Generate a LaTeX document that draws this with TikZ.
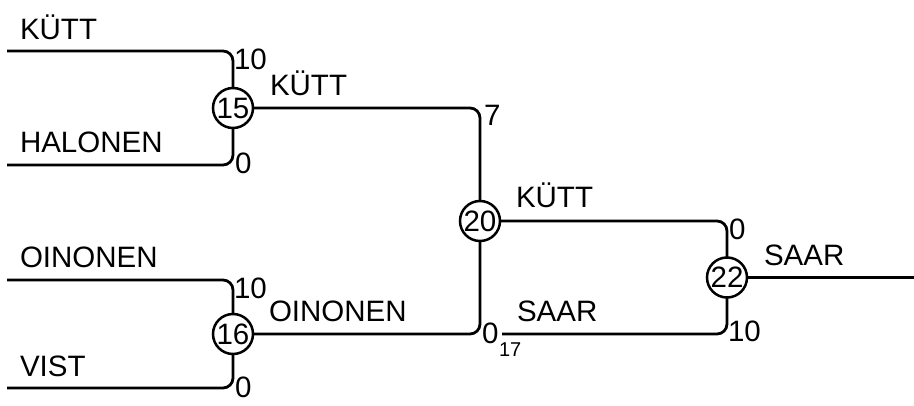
\documentclass[tikz,border=0pt]{standalone}
\usepackage{fontspec}
\setmainfont{Liberation Sans}
\begin{document}
\begin{tikzpicture}[x=1pt,y=-1pt,
  every node/.style={inner sep=0pt,outer sep=0pt,font=\fontsize{29.5}{31}\selectfont},
  match/.style={circle,draw,line width=2.5pt,minimum size=40pt,inner sep=0pt},
  wire/.style={line width=2.8pt,rounded corners=10pt},
  lbl/.style={anchor=base west},
  sub/.style={anchor=base west,font=\fontsize{20}{22}\selectfont}]
\useasboundingbox (0,0) rectangle (914,406);
% matches
\node[match] (n15) at (233,108) {15};
\node[match] (n16) at (233,334) {16};
\node[match] (n20) at (480,221) {20};
\node[match] (n22) at (727,277.5) {22};
% free ends
\coordinate (e1) at (7,51);
\coordinate (e2) at (7,165);
\coordinate (e3) at (7,280);
\coordinate (e4) at (7,388);
\coordinate (e5) at (502,334);
\coordinate (out) at (914,277.5);
% wires
\draw[wire] (e1) -| (n15);
\draw[wire] (e2) -| (n15);
\draw[wire] (e3) -| (n16);
\draw[wire] (e4) -| (n16);
\draw[wire] (n15) -| (n20);
\draw[wire] (n16) -| (n20);
\draw[wire] (n20) -| (n22);
\draw[wire] (e5) -| (n22);
\draw[wire] (n22) -- (out);
% names
\node[lbl] (t1) at (20,40) {KÜTT};
\node[lbl] (t2) at (20,153) {HALONEN};
\node[lbl] (t3) at (20,268) {OINONEN};
\node[lbl] (t4) at (20,377) {VIST};
\node[lbl] (t5) at (270,96) {KÜTT};
\node[lbl] (t6) at (269,322) {OINONEN};
\node[lbl] (t7) at (516,208) {KÜTT};
\node[lbl] (t8) at (517,322) {SAAR};
\node[lbl] (t9) at (764,266) {SAAR};
% scores
\node[lbl] (s1) at (234,70) {10};
\node[lbl] (s2) at (235,174) {0};
\node[lbl] (s3) at (234,299) {10};
\node[lbl] (s4) at (235,398) {0};
\node[lbl] (s5) at (484,126) {7};
\node[lbl] (s6) at (482,344) {0};
\node[sub] (s7) at (499,357) {17};
\node[lbl] (s8) at (729,240) {0};
\node[lbl] (s9) at (728,342) {10};
\end{tikzpicture}
\end{document}
